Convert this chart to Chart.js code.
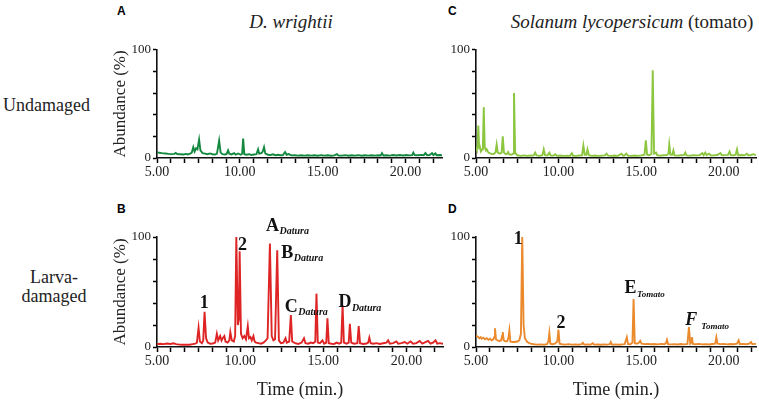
<!DOCTYPE html>
<html>
<head>
<meta charset="utf-8">
<script src="https://cdn.jsdelivr.net/npm/chart.js@4.4.1/dist/chart.umd.min.js"></script>
<style>
  body { margin: 0; width: 759px; height: 402px; background: #fff; position: relative; overflow: hidden;
         font-family: "Liberation Serif", "Times New Roman", serif; color: #222; }
  .box { position: absolute; }
  .txt { position: absolute; white-space: nowrap; }
  .pn { position: absolute; font: bold 12px "Liberation Sans", Arial, sans-serif; color: #000; line-height: 12px; }
  .mid { transform: translate(-50%, -50%); }
</style>
</head>
<body>
<div class="pn" style="left:117px;top:5px">A</div>
<div class="pn" style="left:448px;top:5px">C</div>
<div class="pn" style="left:117px;top:203px">B</div>
<div class="pn" style="left:448px;top:203px">D</div>
<div class="txt mid" style="left:291px;top:22px;font-size:19px"><i>D. wrightii</i></div>
<div class="txt mid" style="left:632px;top:22px;font-size:19px"><i>Solanum lycopersicum</i> (tomato)</div>
<div class="txt" style="left:3px;top:95px;font-size:18px">Undamaged</div>
<div class="txt mid" style="left:54px;top:287px;font-size:18px;line-height:19px;text-align:center">Larva-<br>damaged</div>

<div class="box" style="left:106px;top:40px"><canvas id="pA" width="344" height="148"></canvas></div>
<div class="box" style="left:106px;top:213px"><canvas id="pB" width="344" height="189"></canvas></div>
<div class="box" style="left:440px;top:40px"><canvas id="pC" width="319" height="148"></canvas></div>
<div class="box" style="left:440px;top:213px"><canvas id="pD" width="319" height="189"></canvas></div>

<script>
// retention time (min.), abundance (%)
const daturaUndamaged = [
  [5.00,5.2],[5.15,4.8],[5.30,4.5],[5.50,4.2],[5.70,3.8],[5.90,3.6],[6.05,3.8],[6.13,4.6],[6.22,3.6],
  [6.40,3.4],[6.60,3.2],[6.75,3.8],[6.85,3.3],[7.00,4.0],[7.10,5.0],[7.19,10],[7.27,6],[7.36,9],[7.44,8],
  [7.54,17],[7.62,7],[7.75,4.5],[7.90,4.0],[8.05,3.5],[8.20,4.2],[8.35,3.5],[8.50,3.2],[8.62,4.0],[8.75,16],
  [8.84,5],[8.95,3.5],[9.10,3.2],[9.20,3.8],[9.29,7],[9.36,4],[9.50,3.3],[9.65,4.5],[9.75,3.2],[9.90,4.2],
  [10.05,3.0],[10.14,4],[10.20,18],[10.27,3.5],[10.40,3.0],[10.55,3.5],[10.70,2.8],[10.85,3.2],[11.00,3.5],
  [11.10,8],[11.17,4],[11.30,4.5],[11.38,6],[11.46,10],[11.54,4],[11.70,3.0],[11.85,2.8],[12.00,3.4],
  [12.15,2.6],[12.30,3.0],[12.45,2.6],[12.60,2.8],[12.73,5.5],[12.82,3.0],[12.95,3.6],[13.10,2.4],[13.30,2.6],
  [13.50,2.2],[13.70,2.5],[13.90,2.2],[14.10,2.6],[14.30,2.2],[14.50,2.5],[14.70,2.1],[14.90,2.6],[15.10,2.2],
  [15.30,2.5],[15.50,2.1],[15.70,2.4],[15.86,3.6],[15.95,2.3],[16.15,2.2],[16.35,2.6],[16.55,2.1],[16.75,2.5],
  [16.95,2.2],[17.15,2.6],[17.35,2.1],[17.55,2.5],[17.75,2.2],[17.95,2.6],[18.15,2.2],[18.35,2.5],[18.50,2.3],
  [18.58,4.5],[18.66,2.4],[18.85,2.6],[19.05,2.2],[19.25,2.7],[19.45,2.3],[19.65,2.8],[19.85,2.3],[20.05,2.7],
  [20.25,2.4],[20.40,2.6],[20.47,5.0],[20.55,2.6],[20.75,2.5],[20.95,2.9],[21.10,2.6],[21.20,4.5],[21.30,2.6],
  [21.45,2.8],[21.60,4.5],[21.68,2.7],[21.80,4.2],[21.88,2.6],[22.05,2.8],[22.20,2.6]
];
const daturaDamaged = [
  [5.00,2.5],[5.20,3.0],[5.40,2.6],[5.60,3.2],[5.80,2.8],[6.00,3.4],[6.15,2.6],[6.35,2.2],[6.55,2.0],
  [6.75,2.2],[6.95,2.0],[7.15,2.6],[7.30,3.0],[7.40,4.0],[7.50,17.5],[7.58,5],[7.70,3.5],[7.78,6],[7.86,32],
  [7.95,8],[8.05,4],[8.20,3],[8.35,3.2],[8.50,4],[8.60,12],[8.68,6],[8.80,10],[8.88,6],[8.95,8],[9.05,10],
  [9.12,5],[9.25,4],[9.35,6],[9.41,13.5],[9.50,6],[9.62,5],[9.70,10],[9.77,100],[9.86,20],[9.92,25],
  [9.97,87],[10.05,12],[10.15,8],[10.25,10],[10.35,7],[10.46,19],[10.53,8],[10.62,9],[10.70,6],[10.80,10],
  [10.87,5],[10.95,4],[11.10,3.5],[11.25,3],[11.40,4],[11.55,6],[11.65,8],[11.79,94],[11.90,10],[12.00,6],
  [12.10,7],[12.23,88],[12.33,6],[12.45,3.5],[12.60,4],[12.73,8],[12.80,4],[12.95,5],[13.05,29],[13.13,5],
  [13.30,3.5],[13.50,2.8],[13.70,4],[13.84,8],[13.93,3.5],[14.10,3],[14.25,4],[14.40,3.5],[14.52,5],
  [14.59,48.5],[14.67,4],[14.80,3.5],[14.95,6],[15.05,3],[15.18,4],[15.25,26],[15.33,3.5],[15.50,3],
  [15.65,2.8],[15.80,4],[15.95,3],[16.08,4],[16.16,38],[16.24,4],[16.40,3],[16.53,4],[16.60,21],[16.68,4],
  [16.85,3],[17.05,3.5],[17.13,19],[17.21,3.5],[17.40,2.8],[17.60,3.2],[17.70,4],[17.77,8.5],[17.85,3.5],
  [18.00,3],[18.20,3.5],[18.40,2.8],[18.60,3.4],[18.80,4],[18.90,6],[19.00,3],[19.20,3.5],[19.40,5],
  [19.50,3],[19.70,3.5],[19.90,4.5],[20.05,3],[20.25,5],[20.40,3],[20.60,3.5],[20.80,5.5],[20.95,3],
  [21.15,4.5],[21.30,5.5],[21.45,3],[21.60,4],[21.75,6],[21.85,3],[22.00,3.5],[22.20,3]
];
const tomatoUndamaged = [
  [5.00,10],[5.05,8],[5.10,12],[5.14,30],[5.19,9],[5.24,10],[5.30,6],[5.38,8],[5.42,12],[5.47,47],
  [5.53,10],[5.60,7],[5.65,8],[5.75,5],[5.90,4],[6.05,3.5],[6.18,5],[6.25,12.5],[6.32,5],[6.45,4],
  [6.55,5],[6.62,20],[6.69,5],[6.80,3.5],[6.88,4],[6.94,5.5],[7.00,3.5],[7.15,3],[7.24,4],[7.30,60],
  [7.37,5],[7.50,2.5],[7.70,2],[7.90,2.4],[8.10,2],[8.30,2.3],[8.48,2.2],[8.58,5],[8.66,2.4],[8.85,2],
  [9.02,2.6],[9.10,8],[9.18,2.6],[9.32,2.4],[9.44,5],[9.52,2.3],[9.70,2.2],[9.80,3.5],[9.90,2],[10.10,2.3],
  [10.30,2],[10.50,2.2],[10.70,2],[10.80,4.5],[10.88,2.1],[11.05,2],[11.25,2.3],[11.42,2.5],[11.50,11.5],
  [11.58,3],[11.68,3],[11.75,8],[11.83,2.5],[12.00,2],[12.20,2.3],[12.40,2],[12.60,2.2],[12.80,2.4],
  [12.90,4],[13.00,2.2],[13.20,2],[13.40,2.3],[13.60,2],[13.80,4],[13.90,2.2],[14.00,2.5],[14.10,4],
  [14.20,2.2],[14.40,2],[14.60,2.3],[14.80,2],[15.00,2.4],[15.20,3],[15.28,16.4],[15.36,3],[15.50,2.5],
  [15.62,4],[15.70,81],[15.78,4],[15.90,5],[15.98,2.5],[16.15,2.2],[16.35,2.5],[16.55,2.6],[16.65,4],
  [16.70,12.5],[16.77,3],[16.88,3],[16.95,7],[17.02,2.4],[17.20,2.2],[17.40,2.5],[17.60,2.8],[17.67,5],
  [17.74,2.4],[17.95,2.2],[18.15,2.6],[18.35,2.4],[18.55,2.7],[18.70,4.5],[18.78,2.6],[18.88,5],[18.96,2.6],
  [19.10,4],[19.20,2.5],[19.40,2.4],[19.60,2.8],[19.80,4.5],[19.88,2.5],[20.05,2.7],[20.25,2.9],[20.35,6],
  [20.42,2.7],[20.60,2.5],[20.72,3],[20.80,8],[20.87,2.6],[21.05,2.8],[21.25,2.6],[21.40,4],[21.48,2.6],
  [21.65,2.8],[21.80,3.5],[21.95,2.6]
];
const tomatoDamaged = [
  [5.00,10],[5.10,9.5],[5.20,8],[5.28,9],[5.35,7.5],[5.45,8.5],[5.55,7],[5.65,8],[5.75,6.5],[5.85,7.5],
  [5.95,6],[6.05,7],[6.10,9],[6.15,17],[6.21,7],[6.30,6],[6.42,5.5],[6.52,6],[6.58,10],[6.62,13.6],
  [6.68,6],[6.80,5],[6.90,5.5],[6.97,9],[7.02,15],[7.08,5],[7.20,4.5],[7.35,4.5],[7.50,5],[7.62,6],
  [7.72,12],[7.80,100],[7.88,20],[7.96,8],[8.10,4.5],[8.30,3],[8.50,2.5],[8.70,2.2],[8.90,2.4],[9.10,2.1],
  [9.30,2.5],[9.38,5],[9.44,12.7],[9.50,3],[9.62,2.5],[9.78,3],[9.92,5],[9.99,15.8],[10.06,3],[10.20,2.5],
  [10.40,2.2],[10.60,2.6],[10.80,2.2],[11.00,2.4],[11.20,2.1],[11.40,2.6],[11.47,3.8],[11.55,2.2],
  [11.75,2.4],[11.95,2.2],[12.07,3.5],[12.15,2.2],[12.35,2.3],[12.55,2.1],[12.75,2.4],[12.95,2.2],
  [13.10,2.5],[13.16,4.5],[13.23,2.2],[13.45,2.4],[13.65,2.1],[13.85,2.4],[14.00,2.6],[14.13,8.8],
  [14.20,2.6],[14.35,2.5],[14.47,4],[14.54,43.6],[14.61,3.5],[14.75,3],[14.87,4],[14.94,5.5],[15.02,3],
  [15.20,2.6],[15.40,2.8],[15.60,2.5],[15.80,2.7],[16.00,2.4],[16.20,2.8],[16.40,2.5],[16.50,3.5],
  [16.56,6.5],[16.63,2.5],[16.80,2.4],[17.00,2.6],[17.20,2.3],[17.40,2.7],[17.60,2.4],[17.80,2.8],
  [17.89,18],[17.97,3],[18.03,4],[18.07,9],[18.13,2.8],[18.30,2.5],[18.50,2.8],[18.70,2.4],[18.90,2.6],
  [19.10,2.3],[19.30,2.7],[19.48,3],[19.55,8.8],[19.62,3],[19.80,2.6],[20.00,2.8],[20.20,2.4],[20.40,2.7],
  [20.60,2.5],[20.80,3],[20.90,6],[20.97,2.6],[21.15,2.8],[21.35,2.5],[21.55,3],[21.65,4.5],[21.72,2.6],
  [21.95,2.8]
];

// peak tags: [time, abundance, label, subscript]
const daturaTags = [
  [7.84, 35.5, '1', ''], [10.14, 88, '2', ''],
  [11.95, 105.7, 'A', 'Datura'], [12.83, 81, 'B', 'Datura'],
  [13.08, 32, 'C', 'Datura'], [16.3, 36, 'D', 'Datura']
];
const tomatoTags = [
  [7.56, 93.6, '1', ''], [10.15, 17, '2', ''],
  [14.36, 48.8, 'E', 'Tomato'], [18.03, 20, 'F', 'Tomato']
];

const timeLabels = [5, 10, 15, 20];
const abundanceLabels = [0, 100];

const peakTags = {
  id: 'peakTags',
  afterDatasetsDraw(chart, args, opts) {
    const ctx = chart.ctx, x = chart.scales.x, y = chart.scales.y;
    (opts.tags || []).forEach(([t, a, main, sub]) => {
      const px = x.getPixelForValue(t), py = y.getPixelForValue(a);
      const italic = main === 'F';
      ctx.save();
      ctx.fillStyle = '#111';
      ctx.textBaseline = 'alphabetic';
      ctx.textAlign = 'center';
      ctx.font = (italic ? 'italic ' : '') + 'bold 18px "Liberation Serif"';
      ctx.fillText(main, px, py);
      if (sub) {
        const w = ctx.measureText(main).width;
        ctx.font = 'italic bold ' + opts.subSize + 'px "Liberation Serif"';
        ctx.textAlign = 'left';
        ctx.fillText(sub, px + w / 2 + (italic ? 4 : 0.5), py + 3.5);
      }
      ctx.restore();
    });
  }
};

function panel(id, series, color, o) {
  new Chart(document.getElementById(id), {
    type: 'line',
    data: { datasets: [{
      data: series.map(([t, a]) => ({ x: t, y: a })),
      borderColor: color, borderWidth: 1.9, pointRadius: 0, tension: 0, fill: false
    }]},
    plugins: [peakTags],
    options: {
      responsive: false, animation: false, devicePixelRatio: 1,
      layout: { padding: { top: o.top, right: o.right, left: 0, bottom: 0 } },
      plugins: { legend: { display: false }, tooltip: { enabled: false },
                 peakTags: { tags: o.tags || [], subSize: o.subSize } },
      scales: {
        x: {
          type: 'linear', min: 5, max: o.xmax,
          afterBuildTicks(s) {
            const ticks = [];
            for (let i = 0; 5 + i * 5 / 6 <= o.xmax + 1e-6; i++) ticks.push({ value: 5 + i * 5 / 6 });
            s.ticks = ticks;
          },
          afterFit(s) { s.height = o.xh; },
          ticks: {
            autoSkip: false, maxRotation: 0, padding: 1, color: '#222',
            font: { family: 'Liberation Serif', size: 14 },
            callback: v => {
              const hit = timeLabels.find(l => Math.abs(l - v) < 1e-3);
              return hit !== undefined ? hit.toFixed(2) : '';
            }
          },
          grid: { drawOnChartArea: false, drawTicks: true, tickLength: 5, color: '#000', tickColor: '#000', tickWidth: 1.5 },
          border: { display: true, color: '#111', width: 1.6 },
          title: { display: !!o.xtitle, text: 'Time (min.)', color: '#222',
                   font: { family: 'Liberation Serif', size: 18 }, padding: { top: 0, bottom: 1 } }
        },
        y: {
          min: 0, max: 100,
          afterFit(s) { s.width = o.yw; },
          ticks: {
            stepSize: 10, padding: 2, color: '#222',
            font: { family: 'Liberation Serif', size: 13 },
            callback: v => abundanceLabels.includes(v) ? String(v) : ''
          },
          grid: { drawOnChartArea: false, drawTicks: true, tickLength: 4, color: '#000', tickColor: '#000', tickWidth: 1.5 },
          border: { display: true, color: '#111', width: 1.6 },
          title: { display: !!o.ytitle, text: 'Abundance (%)', color: '#222',
                   font: { family: 'Liberation Serif', size: 17 }, padding: { top: 4, bottom: 0 } }
        }
      }
    }
  });
}

panel('pA', daturaUndamaged, '#13893f', { xmax: 22.2, top: 8, right: 8, yw: 51, xh: 30, ytitle: true });
panel('pB', daturaDamaged, '#de2424', { xmax: 22.2, top: 24, right: 7, yw: 51, xh: 55, ytitle: true, xtitle: true,
  tags: daturaTags, subSize: 10 });
panel('pC', tomatoUndamaged, '#8cc63f', { xmax: 21.95, top: 8, right: 3, yw: 36, xh: 30 });
panel('pD', tomatoDamaged, '#ea8a2c', { xmax: 21.95, top: 24, right: 3, yw: 36, xh: 55, xtitle: true,
  tags: tomatoTags, subSize: 9 });
</script>
</body>
</html>
